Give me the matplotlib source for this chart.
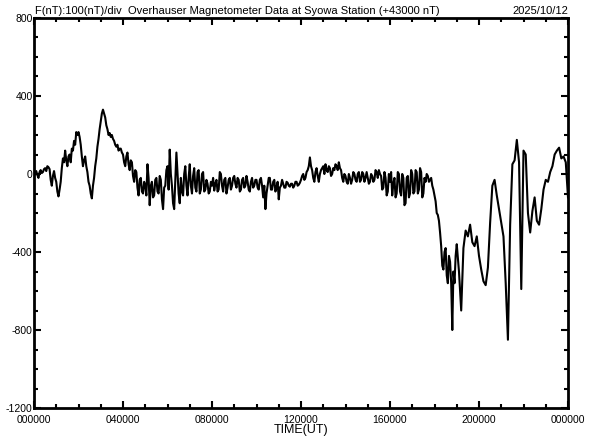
import numpy as np
import matplotlib
matplotlib.use('Agg')
import matplotlib.pyplot as plt
from matplotlib.ticker import MultipleLocator

plt.rcParams['font.family'] = ['Liberation Sans', 'DejaVu Sans']

# F deviation (nT, relative to 43000 nT)
# 00-04 UT, every 0.05 h
f_early = [
    -10, 5, 15, -5, -20, 10, 20, 5, 10, 25, 30, 15, 40, 35, 25, -30, -60, -10, 15, -20,          # 00h
    -40, -90, -115, -80, -40, 30, 80, 60, 120, 70, 40, 90, 100, 60, 130, 120, 170, 150, 215, 200,  # 01h
    215, 190, 150, 90, 40, 70, 90, 40, 10, -40, -60, -100, -125, -60, -20, 40, 80, 140, 180, 230,  # 02h
    270, 310, 330, 310, 290, 250, 230, 200, 210, 190, 200, 180, 170, 150, 140, 150, 120, 130, 130, 110,  # 03h
]
# 04-19 UT, every 0.05 h (noisy part)
f_mid = [
    100, 60, 40, 90, 110, 50, 20, 70, 60, -10, -40, 20, 10, -70, -110, -30, -20, -90, -100, -40,       # 04h
    -60, -110, 50, -20, -160, -60, -40, -120, -110, -30, -20, -90, -100, -10, -30, -130, -180, -70, -60, 20,  # 05h
    40, -80, 125, 0, -60, -150, -180, -30, 110, 0, -100, -150, -20, -90, -110, 0, 40, -60, -110, -20,   # 06h
    50, -60, -100, -10, 30, -70, -90, 10, 20, -100, -80, 0, 10, -90, -80, -30, -50, -100, -90, -40,     # 07h
    -60, -20, -85, -50, -30, -90, -80, 10, 0, -60, -90, -30, -20, -100, -70, -30, -20, -80, -60, -20,   # 08h
    -10, -50, -70, -20, -30, -90, -80, -30, -20, -70, -60, -10, -40, -80, -90, -40, -20, -70, -60, -30,  # 09h
    -30, -70, -80, -30, -20, -60, -120, -60, -180, -100, -60, -20, -20, -80, -80, -40, -30, -90, -70, -40,  # 10h
    -130, -70, -60, -30, -50, -70, -70, -40, -45, -60, -65, -50, -50, -70, -60, -40, -40, -60, -55, -45,  # 11h
    -30, -10, 0, -30, -20, 10, 20, 40, 85, 40, 20, -20, -40, 10, 30, -10, -40, 0, 20, 30,                # 12h
    40, 0, 50, 20, 10, 40, 30, -10, 0, 30, 20, 50, 40, 20, 60, 30, 20, -20, -40, 0,                      # 13h
    -10, -40, -50, 0, -20, -50, -30, 10, 0, -30, -40, 0, 10, -40, -30, 10, 0, -40, -20, 10,              # 14h
    -20, -50, -40, 0, -10, -40, -30, 20, 10, -20, 20, 0, -10, -80, -70, 10, -20, -110, -90, 0,           # 15h
    -40, 10, -110, -50, -20, -120, -100, 10, 0, -90, -110, 0, -20, -160, -150, -20, -10, -120, -100, 20,  # 16h
    0, -100, -90, 20, 10, -100, -80, 30, 10, -120, -100, -20, -40, 0, -10, -40, -30, -20, -60, -80,      # 17h
    -110, -140, -200, -210, -240, -300, -370, -470, -490, -400, -380, -520, -560, -420, -450, -560, -800, -500, -560, -420,  # 18h
]
# 19-24 UT, every 0.1 h
f_late = [
    -360, -500, -700, -380, -290, -320, -260, -350, -370, -320,  # 19h
    -420, -490, -550, -570, -480, -250, -60, -30, -110, -180,    # 20h
    -250, -320, -560, -850, -260, 50, 70, 175, 60, -590,         # 21h
    120, 100, -200, -300, -190, -120, -240, -260, -180, -80,     # 22h
    -30, -40, 10, 40, 100, 120, 135, 80, 90, 60,                 # 23h
    -120,
]

hours = np.concatenate([np.linspace(0, 18.95, len(f_early) + len(f_mid)),
                        np.linspace(19, 24, len(f_late))])
f_nt = np.array(f_early + f_mid + f_late)

x_ticks = [0, 4, 8, 12, 16, 20, 24]
x_labels = ["000000", "040000", "080000", "120000", "160000", "200000", "000000"]
y_ticks = [-1200, -800, -400, 0, 400, 800]

fig = plt.figure(figsize=(5.92, 4.40), dpi=100)
ax = fig.add_axes([34 / 592, 32 / 440, 534 / 592, 390 / 440])

ax.plot(hours, f_nt, color='black', linewidth=1.5)

ax.set_xlim(0, 24)
ax.set_ylim(-1200, 800)
ax.set_xticks(x_ticks)
ax.set_xticklabels(x_labels)
ax.set_yticks(y_ticks)
ax.set_yticklabels([str(v) for v in y_ticks])
ax.xaxis.set_minor_locator(MultipleLocator(1))
ax.yaxis.set_minor_locator(MultipleLocator(100))

ax.tick_params(which='both', direction='in', top=True, right=True, width=1.5, labelsize=7.5)
ax.tick_params(which='major', length=5)
ax.tick_params(which='minor', length=3)
ax.tick_params(axis='y', pad=1)
ax.tick_params(axis='x', pad=5)
for s in ax.spines.values():
    s.set_linewidth(2)

ax.set_xlabel("TIME(UT)", fontsize=9, labelpad=-1)
fig.text(35 / 592, 1 - 14 / 440, "F(nT):100(nT)/div  Overhauser Magnetometer Data at Syowa Station (+43000 nT)",
         fontsize=8, ha='left', va='baseline')
fig.text(568 / 592, 1 - 14 / 440, "2025/10/12", fontsize=8, ha='right', va='baseline')

fig.savefig("out.png", dpi=100)
